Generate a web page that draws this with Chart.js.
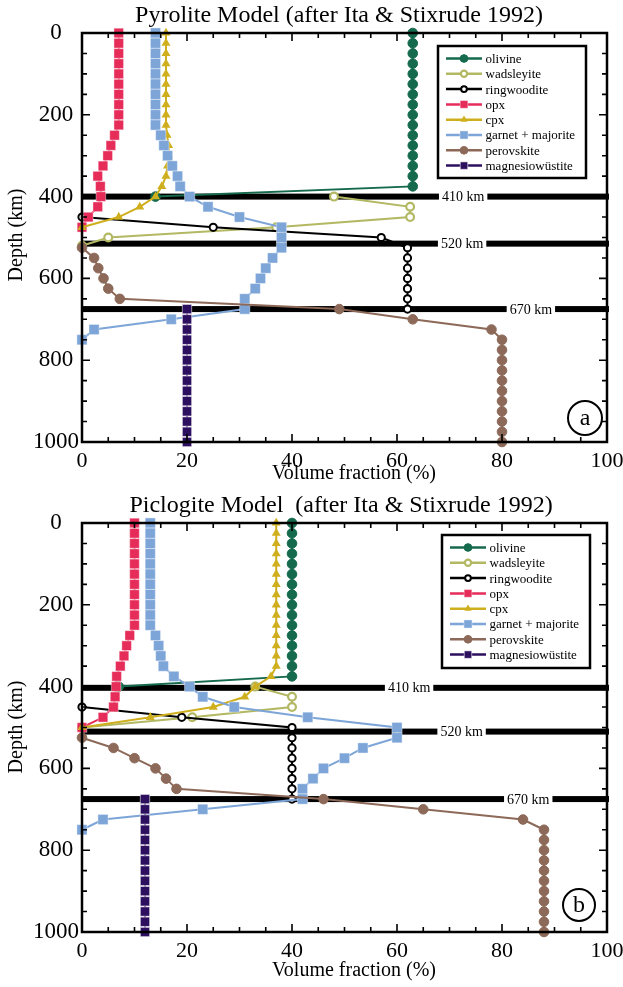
<!DOCTYPE html>
<html lang="en">
<head>
<meta charset="UTF-8">
<title>Pyrolite and Piclogite Models</title>
<script src="https://cdn.jsdelivr.net/npm/chart.js"></script>
<style>
  body { margin: 0; background: #fff; }
  canvas { display: block; }
</style>
</head>
<body>
<canvas id="pyrolite" width="623" height="492"></canvas>
<canvas id="piclogite" width="623" height="495"></canvas>
<script>
// depth grids (km)
const depth0to400 = [0, 25, 50, 75, 100, 125, 150, 175, 200, 225, 250, 275, 300, 325, 350, 375, 400];
const depth0to475 = [0, 25, 50, 75, 100, 125, 150, 175, 200, 225, 250, 275, 300, 325, 350, 375, 400, 425, 450, 475];
const depth0to500 = [0, 25, 50, 75, 100, 125, 150, 175, 200, 225, 250, 275, 300, 325, 350, 375, 400, 425, 450, 475, 500];
const depth0to750 = [0, 25, 50, 75, 100, 125, 150, 175, 200, 225, 250, 275, 300, 325, 350, 375, 400, 425, 450, 475, 500,
                     525, 550, 575, 600, 625, 650, 675, 700, 725, 750];
const depth525to1000 = [525, 550, 575, 600, 625, 650, 675, 700, 725, 750, 775, 800, 825, 850, 875, 900, 925, 950, 975, 1000];
const depth675to1000 = [675, 700, 725, 750, 775, 800, 825, 850, 875, 900, 925, 950, 975, 1000];

// Pyrolite model, volume fraction (%)
const pyrWadsDepth = [400, 425, 450, 475, 500, 520];
const pyrRingDepth = [450, 475, 500, 525, 550, 575, 600, 625, 650, 675];
const pyrOlivine = [63, 63, 63, 63, 63, 63, 63, 63, 63, 63, 63, 63, 63, 63, 63, 63, 14];
const pyrWadsleyite = [48, 62.5, 62.5, 37, 5, 0];
const pyrRingwoodite = [0, 25, 57, 62, 62, 62, 62, 62, 62, 62];
const pyrOpx = [7, 7, 7, 7, 7, 7, 7, 7, 7, 7, 6.2, 5.5, 4.9, 4, 3, 3.5, 3.6, 3, 1.2, 0];
const pyrCpx = [16, 16, 16, 16, 16, 16, 16, 16, 16, 16, 16.2, 16.5, 16.5, 16.3, 16, 15.2, 14, 11, 7, 0];
const pyrGarnet = [14, 14, 14, 14, 14, 14, 14, 14, 14, 14, 15, 15.6, 16.3, 17.2, 18.2, 18.7, 20.5, 24, 30, 38, 38,
                   38, 36.3, 35, 34, 33, 31, 31, 17, 2.3, 0];
const pyrPerovskite = [0, 2.3, 3.1, 4.1, 5, 7.2, 49, 63, 78, 80, 80, 80, 80, 80, 80, 80, 80, 80, 80, 80];
const pyrMagnesio = [20, 20, 20, 20, 20, 20, 20, 20, 20, 20, 20, 20, 20, 20];
const pyrBoundaries = [400, 515, 675];

// Piclogite model, volume fraction (%)
const picWadsDepth = [400, 425, 450, 475, 500];
const picRingDepth = [450, 475, 500, 525, 550, 575, 600, 625, 650, 675];
const picOlivine = [40, 40, 40, 40, 40, 40, 40, 40, 40, 40, 40, 40, 40, 40, 40, 40, 7];
const picWadsleyite = [33, 40, 40, 21, 0];
const picRingwoodite = [0, 19, 40, 40, 40, 40, 40, 40, 40, 40];
const picOpx = [10, 10, 10, 10, 10, 10, 10, 10, 10, 10, 10, 9.1, 8.5, 8, 7.3, 6.6, 6.5, 6.3, 6, 4, 0];
const picCpx = [37, 37, 37, 37, 37, 37, 37, 37, 37, 37, 37, 37, 37, 37, 37, 36, 33, 31, 25, 13, 0];
const picGarnet = [13, 13, 13, 13, 13, 13, 13, 13, 13, 13, 13, 14, 14.6, 15, 15.5, 17.5, 20.5, 23, 29, 43, 60,
                   60, 53.5, 50, 46, 44, 42, 42, 23, 4, 0];
const picPerovskite = [0, 6, 10, 14, 16, 18, 46, 65, 84, 88, 88, 88, 88, 88, 88, 88, 88, 88, 88, 88];
const picMagnesio = [12, 12, 12, 12, 12, 12, 12, 12, 12, 12, 12, 12, 12, 12];
const picBoundaries = [403, 510, 675];

const boundaryLabels = ['410 km', '520 km', '670 km'];
const phaseNames = ['olivine', 'wadsleyite', 'ringwoodite', 'opx', 'cpx', 'garnet + majorite', 'perovskite', 'magnesiowüstite'];

const SERIF = "'Liberation Serif', 'Times New Roman', serif";

const phaseStyles = [
    { color: '#15694c', pointStyle: 'circle', radius: 4.8, fill: '#15694c', stroke: '#15694c', bw: 1 },
    { color: '#b3b862', pointStyle: 'circle', radius: 3.9, fill: '#ffffff', stroke: '#b3b862', bw: 2.2 },
    { color: '#000000', pointStyle: 'circle', radius: 3.6, fill: '#ffffff', stroke: '#000000', bw: 2 },
    { color: '#e62d5a', pointStyle: 'rect', radius: 6.8, fill: '#e62d5a', stroke: 'rgba(255,255,255,0.5)', bw: 0.8 },
    { color: '#cfaf1e', pointStyle: 'triangle', radius: 5.2, fill: '#cfaf1e', stroke: '#cfaf1e', bw: 0 },
    { color: '#7da5d8', pointStyle: 'rect', radius: 7.2, fill: '#7da5d8', stroke: 'rgba(255,255,255,0.5)', bw: 0.8 },
    { color: '#8c6958', pointStyle: 'circle', radius: 4.8, fill: '#8c6958', stroke: '#8c6958', bw: 1 },
    { color: '#2d0f5f', pointStyle: 'rect', radius: 6.6, fill: '#2d0f5f', stroke: 'rgba(255,255,255,0.55)', bw: 1 }
];

function pairs(depths, values) {
    return values.map((v, i) => ({ x: v, y: depths[i] }));
}

function makeDatasets(series) {
    return series.map((s, i) => {
        const st = phaseStyles[i];
        return {
            label: phaseNames[i],
            data: pairs(s[0], s[1]),
            showLine: true,
            borderColor: st.color,
            borderWidth: 2,
            pointStyle: st.pointStyle,
            pointRadius: st.radius,
            pointBackgroundColor: st.fill,
            pointBorderColor: st.stroke,
            pointBorderWidth: st.bw,
            tension: 0,
            clip: false,
            order: series.length - i
        };
    });
}

function drawMarker(ctx, st, x, y, k) {
    const r = st.radius * k;
    ctx.save();
    ctx.fillStyle = st.fill;
    ctx.strokeStyle = st.stroke;
    ctx.lineWidth = st.bw;
    ctx.beginPath();
    if (st.pointStyle === 'circle') {
        ctx.arc(x, y, r, 0, Math.PI * 2);
    } else if (st.pointStyle === 'rect') {
        const s = r * Math.SQRT1_2;
        ctx.rect(x - s, y - s, 2 * s, 2 * s);
    } else {
        ctx.moveTo(x, y - r);
        ctx.lineTo(x + r * 0.866, y + r / 2);
        ctx.lineTo(x - r * 0.866, y + r / 2);
        ctx.closePath();
    }
    ctx.fill();
    if (st.bw) ctx.stroke();
    ctx.restore();
}

// boundary bars, frame with inward ticks, legend box and panel letters
const decor = {
    id: 'decor',
    beforeDatasetsDraw(chart, args, opts) {
        const { ctx, chartArea: a, scales: { y } } = chart;
        ctx.save();
        ctx.fillStyle = '#000';
        opts.boundaries.forEach(d => {
            const py = y.getPixelForValue(d);
            ctx.fillRect(a.left, py - 3, a.right - a.left + 2, 6);
        });
        ctx.restore();
    },
    afterDatasetsDraw(chart, args, opts) {
        const { ctx, chartArea: a, scales: { x, y } } = chart;
        ctx.save();

        // boundary labels
        ctx.font = '14px ' + SERIF;
        ctx.textAlign = 'center';
        ctx.textBaseline = 'middle';
        opts.boundaries.forEach((d, i) => {
            const px = x.getPixelForValue(opts.labelAt[i]);
            const py = y.getPixelForValue(d);
            const w = ctx.measureText(boundaryLabels[i]).width + 6;
            ctx.fillStyle = '#fff';
            ctx.fillRect(px - w / 2, py - 4, w, 8);
            ctx.fillStyle = '#000';
            ctx.fillText(boundaryLabels[i], px, py + 1);
        });

        // frame
        ctx.strokeStyle = '#000';
        ctx.lineWidth = 2.5;
        ctx.strokeRect(a.left, a.top, a.right - a.left, a.bottom - a.top);

        // inward ticks
        ctx.lineWidth = 1.6;
        ctx.beginPath();
        for (let v = 0; v <= 100; v += 5) {
            const px = x.getPixelForValue(v);
            const len = v % 20 === 0 ? 8 : 5;
            ctx.moveTo(px, a.bottom); ctx.lineTo(px, a.bottom - len);
            ctx.moveTo(px, a.top); ctx.lineTo(px, a.top + len);
        }
        for (let d = 0; d <= 1000; d += 50) {
            const py = y.getPixelForValue(d);
            const len = d % 200 === 0 ? 8 : 5;
            ctx.moveTo(a.left, py); ctx.lineTo(a.left + len, py);
            ctx.moveTo(a.right, py); ctx.lineTo(a.right - len, py);
        }
        ctx.stroke();

        // legend
        const L = opts.legend;
        ctx.fillStyle = '#fff';
        ctx.fillRect(L.x, L.y, L.w, L.h);
        ctx.lineWidth = 2.5;
        ctx.strokeRect(L.x, L.y, L.w, L.h);
        ctx.font = '13px ' + SERIF;
        ctx.textAlign = 'left';
        ctx.textBaseline = 'middle';
        phaseNames.forEach((name, i) => {
            const st = phaseStyles[i];
            const ry = L.y + 12.5 + i * 15.3;
            ctx.strokeStyle = st.color;
            ctx.lineWidth = 2.5;
            ctx.beginPath();
            ctx.moveTo(L.x + 8, ry);
            ctx.lineTo(L.x + 44, ry);
            ctx.stroke();
            drawMarker(ctx, st, L.x + 26, ry, 0.8);
            ctx.fillStyle = '#000';
            ctx.fillText(name, L.x + 47.5, ry + 1);
        });

        // panel letter
        ctx.strokeStyle = '#000';
        ctx.lineWidth = 2;
        ctx.beginPath();
        ctx.arc(opts.letter.x, opts.letter.y, opts.letter.r, 0, Math.PI * 2);
        ctx.stroke();
        ctx.font = '24px ' + SERIF;
        ctx.textAlign = 'center';
        ctx.fillStyle = '#000';
        ctx.fillText(opts.letter.text, opts.letter.x, opts.letter.y + 1);
        ctx.restore();
    },
    afterDraw(chart, args, opts) {
        const { ctx } = chart;
        ctx.save();
        ctx.fillStyle = '#000';
        ctx.textAlign = 'center';
        ctx.textBaseline = 'middle';
        ctx.font = '24px ' + SERIF;
        ctx.fillText(opts.title, opts.titleX, opts.titleY);
        ctx.font = '20px ' + SERIF;
        ctx.fillText('Volume fraction (%)', 354, opts.xTitleY);
        ctx.translate(17, 235);
        ctx.rotate(-Math.PI / 2);
        ctx.fillText('Depth (km)', 0, 0);
        ctx.restore();
    }
};

function makeChart(id, series, opts, topPad, xHeight) {
    const ctx = document.getElementById(id).getContext('2d');
    return new Chart(ctx, {
        type: 'scatter',
        data: { datasets: makeDatasets(series) },
        plugins: [decor],
        options: {
            responsive: false,
            animation: false,
            layout: { padding: { left: 0, right: 16, top: topPad, bottom: 0 } },
            plugins: {
                legend: { display: false },
                tooltip: { enabled: false },
                decor: opts
            },
            scales: {
                x: {
                    type: 'linear', min: 0, max: 100,
                    grid: { display: false, drawTicks: false },
                    border: { display: false },
                    ticks: {
                        stepSize: 20, padding: 6, color: '#000',
                        font: { family: SERIF, size: 22 },
                        callback: v => String(v)
                    },
                    afterFit: s => { s.height = xHeight; s.paddingLeft = 0; s.paddingRight = 0; }
                },
                y: {
                    type: 'linear', min: 0, max: 1000, reverse: true,
                    grid: { display: false, drawTicks: false },
                    border: { display: false },
                    ticks: {
                        stepSize: 200, padding: 3, color: '#000', crossAlign: 'center',
                        font: { family: SERIF, size: 23 },
                        callback: v => String(v)
                    },
                    afterFit: s => { s.width = 82; s.paddingTop = 0; s.paddingBottom = 0; }
                }
            }
        }
    });
}

makeChart('pyrolite', [
    [depth0to400, pyrOlivine],
    [pyrWadsDepth, pyrWadsleyite],
    [pyrRingDepth, pyrRingwoodite],
    [depth0to475, pyrOpx],
    [depth0to475, pyrCpx],
    [depth0to750, pyrGarnet],
    [depth525to1000, pyrPerovskite],
    [depth675to1000, pyrMagnesio]
], {
    boundaries: pyrBoundaries,
    labelAt: [72.6, 72.4, 85.5],
    legend: { x: 438, y: 46, w: 148, h: 132 },
    letter: { x: 585, y: 418, r: 17, text: 'a' },
    title: 'Pyrolite Model (after Ita & Stixrude 1992)',
    titleX: 339, titleY: 16, xTitleY: 474
}, 33, 50);

makeChart('piclogite', [
    [depth0to400, picOlivine],
    [picWadsDepth, picWadsleyite],
    [picRingDepth, picRingwoodite],
    [depth0to500, picOpx],
    [depth0to500, picCpx],
    [depth0to750, picGarnet],
    [depth525to1000, picPerovskite],
    [depth675to1000, picMagnesio]
], {
    boundaries: picBoundaries,
    labelAt: [62.3, 72.3, 85],
    legend: { x: 442, y: 43, w: 148, h: 133 },
    letter: { x: 579, y: 413, r: 16, text: 'b' },
    title: 'Piclogite Model  (after Ita & Stixrude 1992)',
    titleX: 341, titleY: 14, xTitleY: 479
}, 31, 55);
</script>
</body>
</html>
